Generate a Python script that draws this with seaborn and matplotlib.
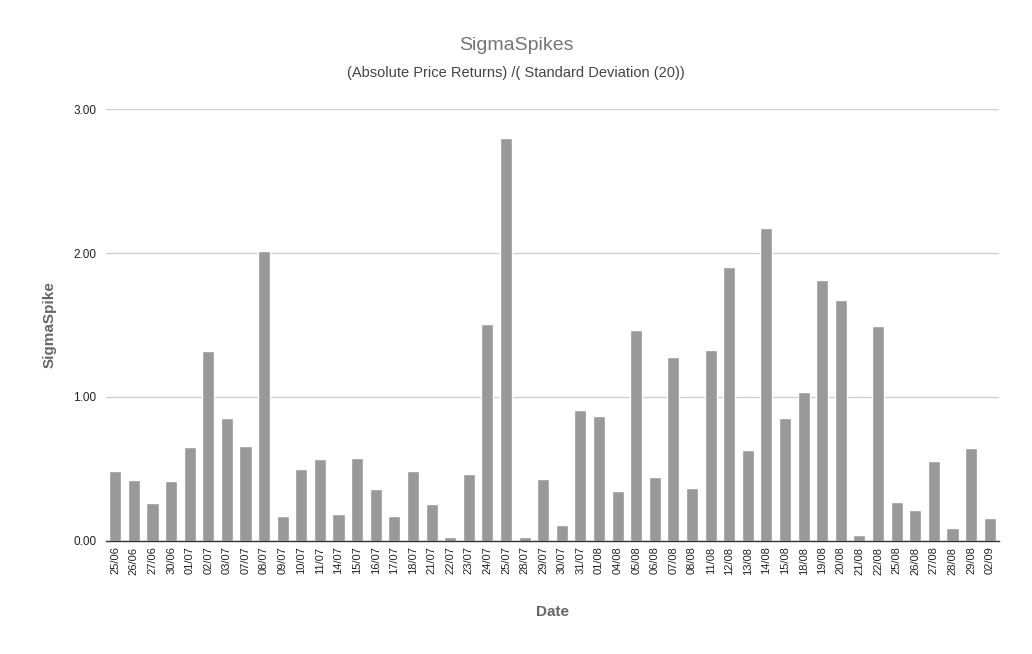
import matplotlib
matplotlib.use("Agg")
import matplotlib.pyplot as plt
import seaborn as sns
import pandas as pd

dates = ["25/06", "26/06", "27/06", "30/06", "01/07", "02/07", "03/07", "07/07", "08/07", "09/07",
         "10/07", "11/07", "14/07", "15/07", "16/07", "17/07", "18/07", "21/07", "22/07", "23/07",
         "24/07", "25/07", "28/07", "29/07", "30/07", "31/07", "01/08", "04/08", "05/08", "06/08",
         "07/08", "08/08", "11/08", "12/08", "13/08", "14/08", "15/08", "18/08", "19/08", "20/08",
         "21/08", "22/08", "25/08", "26/08", "27/08", "28/08", "29/08", "02/09"]
sigma_spike = [0.488, 0.426, 0.266, 0.419, 0.655, 1.322, 0.856, 0.662, 2.016, 0.176,
               0.502, 0.572, 0.190, 0.579, 0.363, 0.176, 0.488, 0.259, 0.030, 0.468,
               1.509, 2.801, 0.030, 0.433, 0.113, 0.912, 0.870, 0.350, 1.468, 0.447,
               1.280, 0.370, 1.329, 1.905, 0.634, 2.176, 0.856, 1.037, 1.815, 1.676,
               0.044, 1.495, 0.273, 0.218, 0.558, 0.093, 0.648, 0.162]
y_ticks = [0, 1, 2, 3]

sns.set_theme(style="white")
plt.rcParams["font.family"] = ["Liberation Sans", "DejaVu Sans"]

df = pd.DataFrame({"Date": dates, "SigmaSpike": sigma_spike})

fig = plt.figure(figsize=(10.32, 6.54), dpi=100)
ax = fig.add_axes([0.1027, 0.1728, 0.8653, 0.6605])

sns.barplot(data=df, x="Date", y="SigmaSpike", color="#999999", width=0.65,
            saturation=1, ax=ax, zorder=3)

ax.set_ylim(0, 3)
ax.set_xlim(-0.5, len(dates) - 0.5)
ax.set_yticks(y_ticks)
ax.set_yticklabels([f"{v:.2f}" for v in y_ticks], fontsize=8.5, color="#222222")
ax.tick_params(axis="x", labelrotation=90, labelsize=8, labelcolor="#222222", length=0, pad=4)
ax.tick_params(axis="y", length=0, pad=7)
ax.yaxis.grid(True, color="#cccccc", linewidth=0.9, zorder=0)
ax.xaxis.grid(False)
for s in ["top", "right", "left"]:
    ax.spines[s].set_visible(False)
ax.spines["bottom"].set_color("#333333")
ax.spines["bottom"].set_linewidth(1.0)
ax.spines["bottom"].set_zorder(4)

ax.set_xlabel("Date", fontsize=11, fontweight="bold", color="#666666", labelpad=22)
ax.set_ylabel("SigmaSpike", fontsize=11, fontweight="bold", color="#666666", labelpad=12)

fig.text(0.5, 1 - 45 / 654, "SigmaSpikes", ha="center", va="center", fontsize=14, color="#757575")
fig.text(0.5, 1 - 73 / 654, "(Absolute Price Returns) /( Standard Deviation (20))", ha="center",
         va="center", fontsize=10.5, color="#444444")

fig.savefig("out.png", dpi=100, facecolor="white")
